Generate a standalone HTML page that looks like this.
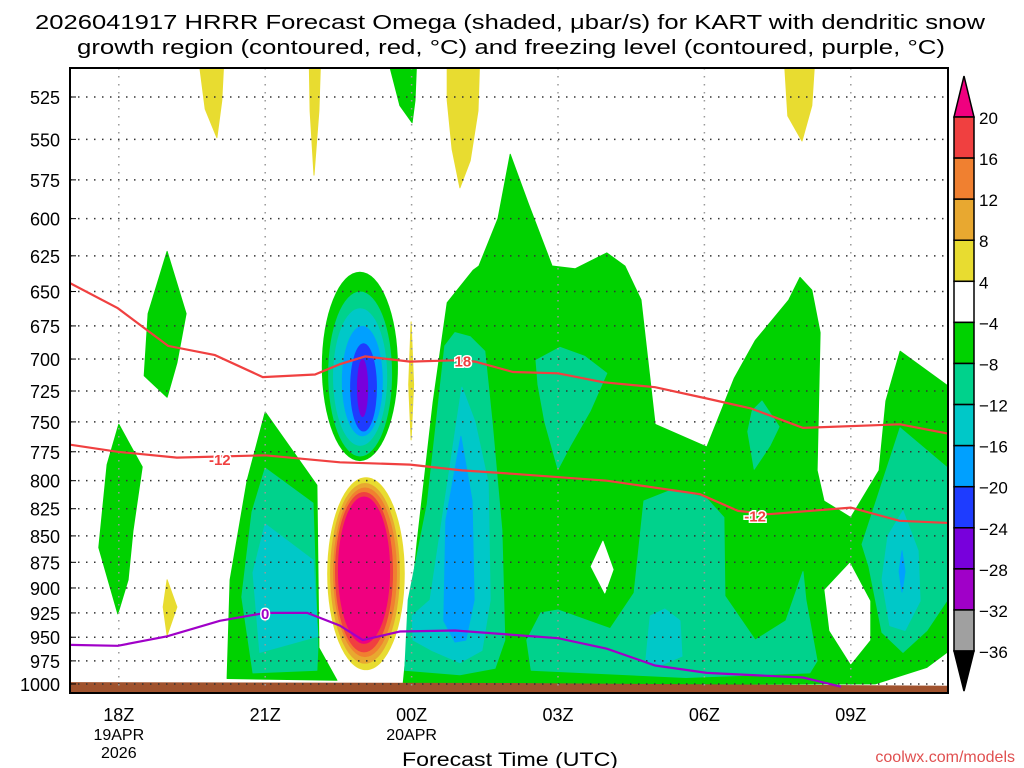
<!DOCTYPE html>
<html><head><meta charset="utf-8"><style>
html,body{margin:0;padding:0;background:#fff;width:1024px;height:768px;overflow:hidden}
svg{display:block;font-family:"Liberation Sans",sans-serif}
</style></head><body>
<svg id="chart" width="1024" height="768" viewBox="0 0 1024 768" xmlns="http://www.w3.org/2000/svg">
<text x="35" y="29" font-size="20" textLength="950" lengthAdjust="spacingAndGlyphs">2026041917 HRRR Forecast Omega (shaded, μbar/s) for KART with dendritic snow</text>
<text x="77" y="54" font-size="20" textLength="868" lengthAdjust="spacingAndGlyphs">growth region (contoured, red, °C) and freezing level (contoured, purple, °C)</text>
<defs><clipPath id="pc"><rect x="70" y="68" width="878" height="625"/></clipPath></defs>
<g id="plot" clip-path="url(#pc)"></g>
<g id="over"></g>
<text x="402" y="766" font-size="19" textLength="216" lengthAdjust="spacingAndGlyphs">Forecast Time (UTC)</text>
<text x="1015" y="762" font-size="16" fill="#e05050" text-anchor="end">coolwx.com/models</text>
</svg>
<script>
// ---- data ----
const pressureTicks=[525,550,575,600,625,650,675,700,725,750,775,800,825,850,875,900,925,950,975,1000];
const timeTickHours=[1,4,7,10,13,16];
const timeTickLabels=["18Z","21Z","00Z","03Z","06Z","09Z"];
const dendriticUpper=[[0,644],[0.98,662],[2.01,690],[2.97,697],[3.95,714],[5.02,712],[5.53,704],[6.05,698],[6.97,702],[7.89,701],[8.3,702],[9.08,710],[10,711],[10.92,718],[11.99,722],[13.05,731],[13.95,739],[15.02,755],[17.01,752],[18.03,760]];
const dendriticLower=[[0,769],[0.98,775],[2.19,780],[4,778],[5.53,784],[6.97,786],[8.03,791],[9.08,794],[11,800],[12.91,812],[13.69,827],[14.32,830],[16,824],[17,836],[18.03,838]];
const freezingLevel=[[0,958],[0.98,959],[1.99,949],[3.07,933],[4,925],[4.86,925],[5.53,938],[6,953],[6.76,944],[7.89,943],[10,951],[11,962],[11.99,980],[13.05,988],[15.02,993],[15.8,1003]];
const lineLabels=[["18",8.05,701,"#f04040"],["-12",3.07,781,"#f04040"],["-12",14.04,831,"#f04040"],["0",4.0,925,"#a000c8"]];
const upNest=[[5.16,6.72,636,783],[5.29,6.6,650,779],[5.39,6.5,662,770],[5.57,6.41,675,762],[5.74,6.29,688,758],[5.88,6.11,700,746]];
const upNestLevel=[5,6,7,8,9,10];
const downNest=[[5.27,6.86,797,985],[5.33,6.76,802,978],[5.39,6.7,806,971],[5.43,6.62,810,966],[5.49,6.56,814,957]];
const downNestLevel=[4,3,2,1,0];
const greenAreas=[
 [[7.07,1004],[6.82,1004],[7.11,857],[7.44,734],[7.73,658],[8.26,635],[8.38,632],[8.77,600],[9.02,559],[9.39,590],[9.88,632],[10.35,634],[11,623],[11.37,632],[11.7,656],[11.99,752],[13.05,771],[13.61,715],[14.04,686],[14.73,656],[14.96,640],[15.2,649],[15.37,680],[15.31,791],[15.45,818],[16,833],[16.58,791],[16.72,733],[17.01,694],[18.1,724],[18.1,961],[17.56,982],[16.5,1000],[10,1001]],
 [[1.99,622],[2.38,666],[2.19,703],[1.99,730],[1.52,713],[1.6,666]],
 [[1,752],[1.48,788],[1.29,845],[1.19,892],[0.98,926],[0.59,861],[0.76,786]],
 [[4,742],[5.06,804],[5.1,961],[5.47,996],[3.22,994],[3.28,892],[3.63,800]],
 [[6.48,500],[7.11,500],[7.07,527],[7.01,540],[6.76,530]]
];
const tealAreas=[
 [[6.86,985],[6.93,912],[7.32,821],[7.68,690],[7.89,680],[8.2,683],[8.5,694],[8.65,750],[8.85,845],[8.91,953],[8.71,983],[7.99,990]],
 [[9.55,701],[10.04,691],[10.55,698],[11,711],[10.66,741],[10.25,770],[10,790],[9.73,750],[9.59,720]],
 [[9.36,953],[9.65,925],[10,922],[11.07,941],[11.56,905],[11.76,818],[12.34,808],[13.03,815],[13.4,833],[13.42,908],[14.04,953],[14.67,933],[15.02,884],[15.08,912],[15.31,975],[15.16,988],[12.62,993],[9.45,985]],
 [[13.98,741],[14.18,733],[14.53,754],[14.34,770],[14.02,790],[13.89,758]],
 [[16.23,858],[17.01,755],[18.1,793],[18.1,903],[17.56,943],[17.07,966],[16.64,945],[16.37,879]],
 [[4,789],[4.98,820],[5.08,961],[5.06,985],[3.75,988],[3.52,909],[3.73,828]]
];
const whiteHoles=[
 [[10.92,855],[11.13,882],[10.96,905],[10.68,879]],
 [[15.98,876],[16.39,913],[16.39,953],[16,978],[15.57,943],[15.47,902]]
];
const cyanAreas=[
 [[8.03,722],[8.3,750],[8.57,802],[8.61,912],[8.44,964],[7.99,977],[7.42,964],[7.03,953],[7.01,928],[7.38,912]],
 [[11.89,928],[12.19,921],[12.5,933],[12.54,970],[12.09,980],[11.8,975]],
 [[17.07,827],[17.38,864],[17.42,913],[17.11,943],[16.8,938],[16.64,892],[16.76,850]],
 [[4,839],[4.98,873],[5.08,949],[3.89,966],[3.75,885]]
];
const blueAreas=[
 [[8.01,762],[8.24,818],[8.28,912],[8.11,953],[7.89,955],[7.66,933],[7.7,836]],
 [[17.05,864],[17.11,884],[17.05,904],[16.99,884]]
];
const yellowAreas=[
 [[2.62,500],[3.16,500],[3.11,527],[3.01,549],[2.77,532]],
 [[4.9,500],[5.14,500],[5.1,533],[5,572],[4.92,533]],
 [[7.73,500],[8.4,500],[8.36,533],[8.2,563],[7.99,580],[7.83,556],[7.73,527]],
 [[14.63,500],[15.27,500],[15.2,530],[15,551],[14.71,536]],
 [[1.99,892],[2.19,919],[1.99,948],[1.91,919]],
 [[6.99,672],[7.04,720],[6.99,765],[6.94,720]]
];
const surfacePressure=[[0,998],[9,999],[18,1002]];
const cbarLabels=["20","16","12","8","4","-4","-8","-12","-16","-20","-24","-28","-32","-36"];
// ---- styles ----
const C=["#f0007f","#f04040","#f08030","#e8a830","#e8dc30","#00d200","#00d28c","#00c8c8","#00a0ff","#1e3cff","#7800dc","#a000c8","#a0a0a0"];
const X0=70,PXH=48.8,Y0=97,PK=910.9;
function x(h){return X0+h*PXH;}
function y(p){return Y0+PK*Math.log(p/525);}
const NS="http://www.w3.org/2000/svg";
const plot=document.getElementById('plot'),over=document.getElementById('over');
function mk(tag,attrs,parent){const e=document.createElementNS(NS,tag);for(const k in attrs)e.setAttribute(k,attrs[k]);parent.appendChild(e);return e;}
function pts(a){return a.map(q=>x(q[0]).toFixed(1)+","+y(q[1]).toFixed(1)).join(" ");}
function areas(list,fill,name){list.forEach(a=>{const e=mk('polygon',{points:pts(a),fill:fill,'stroke':fill,'stroke-width':1,'stroke-linejoin':'round'},plot);

});}
areas(greenAreas,C[5],'omega-green-area');
areas(tealAreas,C[6],'omega-teal-area');
areas(whiteHoles,"#fff",'omega-white-area');
areas(cyanAreas,C[7],'omega-cyan-area');
areas(blueAreas,C[8],'omega-blue-area');
areas(yellowAreas,C[4],'omega-yellow-area');
function nest(list,lv,name){list.forEach((n,i)=>{const cx=(x(n[0])+x(n[1]))/2,rx=(x(n[1])-x(n[0]))/2,cy=(y(n[2])+y(n[3]))/2,ry=(y(n[3])-y(n[2]))/2;
const e=mk('ellipse',{cx:cx,cy:cy,rx:rx,ry:ry,fill:C[lv[i]]},plot);

});}
nest(upNest,upNestLevel,'updraft-contour');
nest(downNest,downNestLevel,'downdraft-contour');
// ground
const gp=surfacePressure.map(q=>x(q[0])+","+y(q[1])).join(" ")+" "+x(18)+",700 "+x(0)+",700";
const gr=mk('polygon',{points:gp,fill:"#a0522d"},plot);


// grid
pressureTicks.forEach(p=>{const g=mk('line',{x1:70,x2:948,y1:y(p),y2:y(p),stroke:"#333",'stroke-width':1.5,'stroke-dasharray':'1.5 6.5'},plot);


const t=mk('text',{x:60,y:y(p)+7,'font-size':18,'text-anchor':'end'},over);t.textContent=p;


mk('line',{x1:70,x2:76,y1:y(p),y2:y(p),stroke:"#000"},over);});
timeTickHours.forEach((h,i)=>{const g=mk('line',{x1:x(h),x2:x(h),y1:68,y2:693,stroke:"#999",'stroke-width':1.5,'stroke-dasharray':'1.5 6.5'},plot);


const t=mk('text',{x:x(h),y:721,'font-size':18,'text-anchor':'middle'},over);t.textContent=timeTickLabels[i];

});
[["19APR",1,740],["2026",1,758],["20APR",7,740]].forEach(d=>{const t=mk('text',{x:x(d[1]),y:d[2],'font-size':16,'text-anchor':'middle'},over);t.textContent=d[0];

});
// lines
function line(data,col,name){const e=mk('polyline',{points:pts(data),fill:'none',stroke:col,'stroke-width':2.2},plot);

}
line(dendriticUpper,C[1],'dendritic-upper-line');
line(dendriticLower,C[1],'dendritic-lower-line');
line(freezingLevel,C[11],'freezing-level-line');
lineLabels.forEach(l=>{const t=mk('text',{x:x(l[1]),y:y(l[2])+6,'font-size':15,'font-weight':'bold',fill:l[3],'text-anchor':'middle',stroke:'#fff','stroke-width':3,'paint-order':'stroke'},plot);t.textContent=l[0];

});
// border
const b=mk('rect',{x:70,y:68,width:878,height:625,fill:'none',stroke:'#000','stroke-width':2},over);


// colorbar
const cbTop=117,cbStep=41.08,cbX=954,cbW=20;
const tri1=mk('polygon',{points:`${cbX},${cbTop} ${cbX+cbW},${cbTop} ${cbX+cbW/2},${cbTop-41}`,fill:C[0],stroke:'#000','stroke-width':1.5},over);


for(let i=0;i<13;i++){const col=i<4?C[i+1]:(i==4?"#fff":C[i]);const r=mk('rect',{x:cbX,y:cbTop+i*cbStep,width:cbW,height:cbStep,fill:col,stroke:'#000','stroke-width':1.5},over);

}
const bot=cbTop+13*cbStep;
const tri2=mk('polygon',{points:`${cbX},${bot} ${cbX+cbW},${bot} ${cbX+cbW/2},${bot+40}`,fill:'#000',stroke:'#000','stroke-width':1.5},over);


cbarLabels.forEach((s,i)=>{const t=mk('text',{x:979,y:cbTop+i*cbStep+7,'font-size':17},over);t.textContent=s.replace('-','\u2212');

});
</script>
</body></html>
